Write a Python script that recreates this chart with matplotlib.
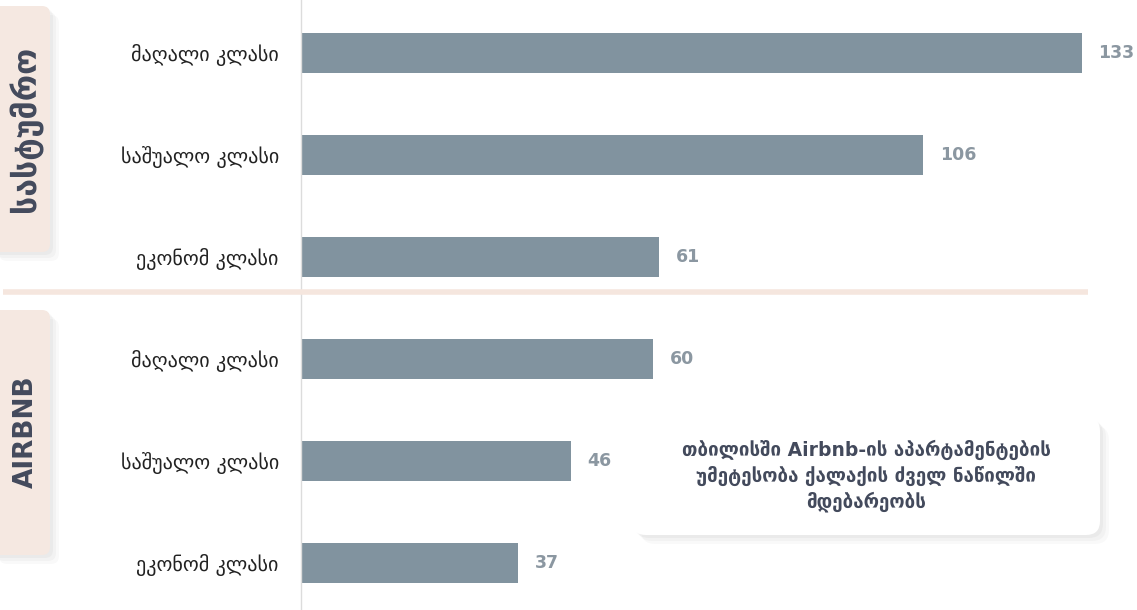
import matplotlib
matplotlib.use("Agg")
import matplotlib.pyplot as plt
from matplotlib.patches import FancyBboxPatch

plt.rcParams['font.family'] = ['DejaVu Sans']

groups = ['სასტუმრო', 'AIRBNB']
classes = ['მაღალი კლასი', 'საშუალო კლასი', 'ეკონომ კლასი']
hotel = [133, 106, 61]
airbnb = [60, 46, 37]
note = 'თბილისში Airbnb-ის აპარტამენტების\nუმეტესობა ქალაქის ძველ ნაწილში\nმდებარეობს'

W, H = 1137, 610
fig = plt.figure(figsize=(W / 100, H / 100), dpi=100)

labels = classes + classes
values = hotel + airbnb
ypos = list(range(len(values)))

# bar axes: left edge at x=301px
ax = fig.add_axes([301 / W, 0, 1 - 301 / W, 1])
ax.patch.set_alpha(0)
ax.barh(ypos, values, height=0.39, color='#81939f')
ax.set_xlim(0, (W - 301) / 5.87)
ax.set_ylim((H - 53) / 102, -53 / 102)
for y, v in zip(ypos, values):
    ax.text(v + 2.8, y, str(v), va='center', ha='left', fontsize=12.5,
            fontweight='bold', color='#8b97a1')
ax.set_yticks(ypos)
ax.set_yticklabels(labels, fontsize=14.5, color='#222222')
ax.tick_params(axis='y', length=0, pad=16)
ax.set_xticks([])
for s in ['top', 'right', 'bottom']:
    ax.spines[s].set_visible(False)
ax.spines['left'].set_color('#dcdcdc')
ax.spines['left'].set_linewidth(1)

# decoration overlay in pixel coordinates
deco = fig.add_axes([0, 0, 1, 1], zorder=3)
deco.patch.set_alpha(0)
deco.set_xlim(0, W)
deco.set_ylim(H, 0)
deco.axis('off')


def box(x, y, w, h, fc, r=10):
    for i, a in enumerate([0.05, 0.04, 0.03]):
        d = 3 + i * 3
        deco.add_patch(FancyBboxPatch((x + d, y + d), w, h,
                                      boxstyle=f'round,pad=0,rounding_size={r}',
                                      fc='#555555', ec='none', alpha=a))
    deco.add_patch(FancyBboxPatch((x, y), w, h,
                                  boxstyle=f'round,pad=0,rounding_size={r}',
                                  fc=fc, ec='none'))


deco.plot([3, 1088], [292, 292], color='#f5e6de', lw=4, solid_capstyle='butt')

box(-10, 6, 60, 246, '#f5e8e1', r=8)
box(-10, 310, 60, 245, '#f5e8e1', r=8)
deco.text(26, 129, groups[0], rotation=90, ha='center', va='center',
          fontsize=23, fontweight='bold', color='#434a5c')
deco.text(26, 432, groups[1], rotation=90, ha='center', va='center',
          fontsize=19, fontweight='bold', color='#434a5c')

box(632, 417, 468, 118, 'white', r=14)
deco.text(866, 476, note, ha='center', va='center', fontsize=13.5,
          fontweight='bold', color='#434a5c', linespacing=1.35)

fig.savefig('out.png', dpi=100)
